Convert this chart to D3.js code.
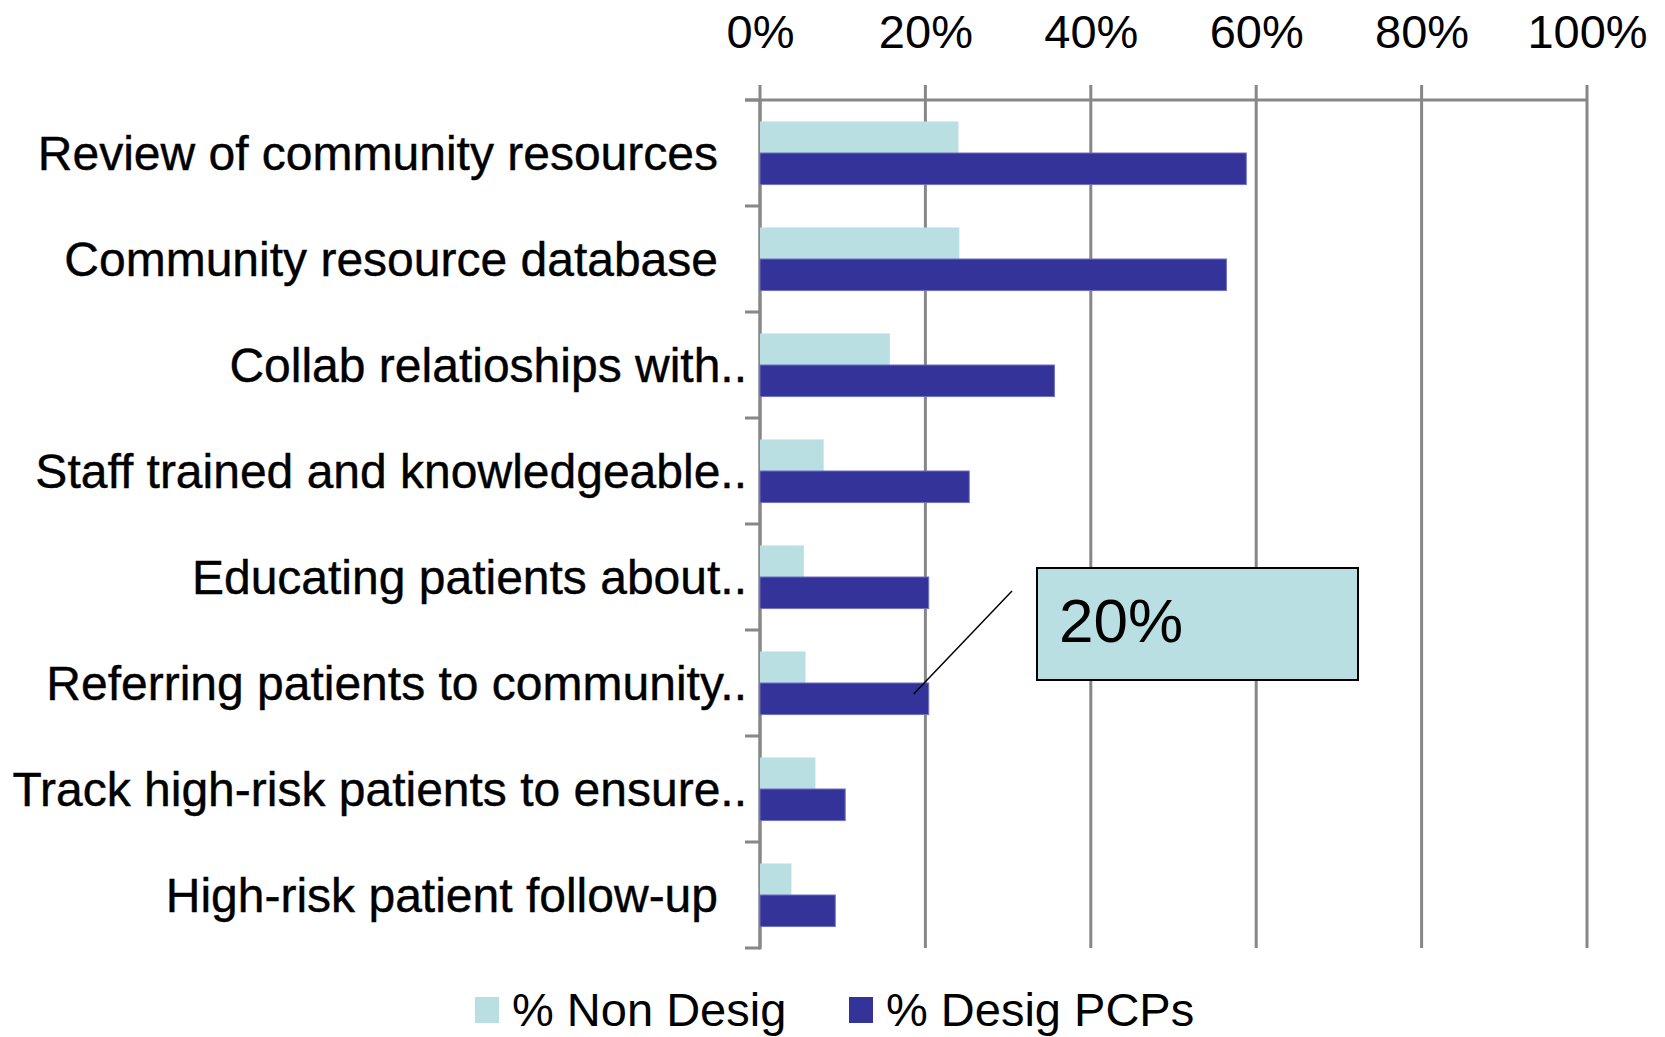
<!DOCTYPE html>
<html>
<head>
<meta charset="utf-8">
<script src="https://cdn.jsdelivr.net/npm/d3@7"></script>
<style>
  html, body { margin: 0; padding: 0; background: #ffffff; }
  svg { display: block; }
  text { font-family: "Liberation Sans", Arial, sans-serif; fill: #000; }
</style>
</head>
<body>
<svg id="chart" width="1665" height="1037"></svg>
<script>
const categories = [
  "Review of community resources",
  "Community resource database",
  "Collab relatioships with..",
  "Staff trained and knowledgeable..",
  "Educating patients about..",
  "Referring patients to community..",
  "Track high-risk patients to ensure..",
  "High-risk patient follow-up"
];
const seriesNames = ["% Non Desig", "% Desig PCPs"];
const nonDesig = [24.0, 24.1, 15.7, 7.7, 5.3, 5.5, 6.7, 3.8];
const desigPCPs = [58.8, 56.4, 35.6, 25.3, 20.4, 20.4, 10.3, 9.1];
const xTicks = [0, 20, 40, 60, 80, 100];
const calloutText = "20%";
const calloutIndex = 5;

const colors = { "% Non Desig": "#badfe2", "% Desig PCPs": "#333399" };
const gridColor = "#878787";

const svg = d3.select("#chart");

const x = d3.scaleLinear().domain([0, 100]).range([760, 1587]);
const y = d3.scaleBand().domain(categories).range([100, 948]).padding(0);
const yInner = d3.scaleBand().domain(seriesNames).range([0, y.bandwidth()]).paddingInner(0).paddingOuter(0.68);

// gridlines with outward tick marks
svg.append("g").selectAll("line").data(xTicks).join("line")
  .attr("x1", d => x(d)).attr("x2", d => x(d))
  .attr("y1", 85).attr("y2", 948)
  .attr("stroke", gridColor).attr("stroke-width", 3);

// top axis line
svg.append("line")
  .attr("x1", 745).attr("x2", x(100))
  .attr("y1", 100).attr("y2", 100)
  .attr("stroke", gridColor).attr("stroke-width", 3);

// category axis
svg.append("line")
  .attr("x1", x(0)).attr("x2", x(0))
  .attr("y1", 100).attr("y2", 949.5)
  .attr("stroke", gridColor).attr("stroke-width", 3);
const boundaries = categories.map(c => y(c)).concat([y.range()[1]]);
svg.append("g").selectAll("line").data(boundaries).join("line")
  .attr("x1", 745).attr("x2", x(0))
  .attr("y1", d => d).attr("y2", d => d)
  .attr("stroke", gridColor).attr("stroke-width", 3);

// tick labels
const xAxis = d3.axisTop(x).tickValues(xTicks).tickFormat(d => d + "%").tickSize(0).tickPadding(0);
const gx = svg.append("g").attr("transform", "translate(0,48)").call(xAxis);
gx.select(".domain").remove();
gx.selectAll("text").attr("font-size", 47).attr("font-family", '"Liberation Sans", Arial, sans-serif')
  .attr("fill", "#000").attr("dy", 0);

// bars
const rows = categories.map((c, i) => ({ c, vals: [nonDesig[i], desigPCPs[i]] }));
const groups = svg.append("g").selectAll("g").data(rows).join("g")
  .attr("transform", d => `translate(0,${y(d.c)})`);
groups.selectAll("rect").data(d => d.vals.map((v, j) => ({ s: seriesNames[j], v }))).join("rect")
  .attr("x", x(0))
  .attr("y", d => yInner(d.s))
  .attr("width", d => x(d.v) - x(0))
  .attr("height", yInner.bandwidth())
  .attr("fill", d => colors[d.s])
  .attr("stroke", d => d.s === seriesNames[1] ? "#6f6fc4" : "none")
  .attr("stroke-width", 1);

// category labels
svg.append("g").selectAll("text").data(categories).join("text")
  .attr("x", d => d.endsWith("..") ? 747 : 718)
  .attr("y", d => y(d) + y.bandwidth() / 2)
  .attr("dy", "0.36em")
  .attr("text-anchor", "end")
  .attr("font-size", 48)
  .attr("stroke", "#000").attr("stroke-width", 0.4)
  .text(d => d);

// callout
const ax = x(desigPCPs[calloutIndex]) - 15;
const ay = y(categories[calloutIndex]) + yInner(seriesNames[1]) + yInner.bandwidth() * 0.35;
svg.append("line")
  .attr("x1", ax).attr("y1", ay)
  .attr("x2", 1012).attr("y2", 591)
  .attr("stroke", "#000").attr("stroke-width", 1.5);
svg.append("rect")
  .attr("x", 1037).attr("y", 568).attr("width", 321).attr("height", 112)
  .attr("fill", colors[seriesNames[0]]).attr("stroke", "#000").attr("stroke-width", 2);
svg.append("text")
  .attr("x", 1059).attr("y", 642)
  .attr("font-size", 62)
  .text(calloutText);

// legend
const legendX = [475, 849];
const lg = svg.append("g").selectAll("g").data(seriesNames).join("g")
  .attr("transform", (d, i) => `translate(${legendX[i]},0)`);
lg.append("rect").attr("x", 0).attr("y", 997).attr("width", 24).attr("height", 26)
  .attr("fill", d => colors[d]);
lg.append("text").attr("x", 37).attr("y", 1026).attr("font-size", 47).text(d => d);
</script>
</body>
</html>
